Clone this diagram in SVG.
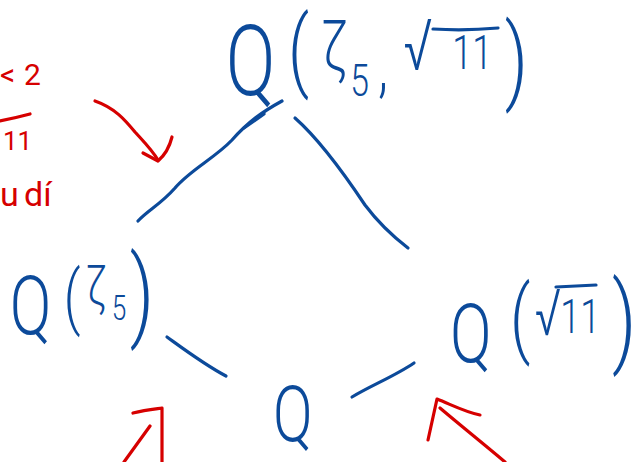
<svg xmlns="http://www.w3.org/2000/svg" width="639" height="462" viewBox="0 0 639 462">
<style>
.b{fill:#0c4a9a;font-family:Roboto,Inter,"Liberation Sans",sans-serif;font-weight:300}
.r{fill:#d60000;font-family:Roboto,Inter,"Liberation Sans",sans-serif;font-weight:400}
.bl{fill:none;stroke:#0c4a9a;stroke-width:3.2;stroke-linecap:round;stroke-linejoin:round}
.rl{fill:none;stroke:#d60000;stroke-width:3.2;stroke-linecap:round;stroke-linejoin:round}
</style>
<rect width="639" height="462" fill="#ffffff"/>
<g id="notes">
<text class="r" font-size="30" y="85"><tspan x="0">&lt;</tspan><tspan x="24">2</tspan></text>
<path class="rl" d="M 0 121 Q 15 118 30 114"/>
<text class="r" font-size="26" x="3" y="150">11</text>
<text class="r" font-size="34" y="206"><tspan x="0">u</tspan><tspan x="24">dí</tspan></text>
</g>
<g id="node-top">
<text class="b" transform="scale(0.75,1)"><tspan x="301" y="95" font-size="98">Q</tspan><tspan x="384" y="80" font-size="88">(</tspan><tspan x="429" y="70" font-size="70">ζ</tspan><tspan x="467" y="96" font-size="45">5</tspan><tspan x="504" y="90" font-size="70">,</tspan><tspan x="538" y="70" font-size="72">√</tspan><tspan x="603" y="69" font-size="48">11</tspan><tspan x="673" y="92" font-size="95">)</tspan></text>
<path class="bl" d="M 433 29 Q 465 31 498 28"/>
</g>
<g id="node-left">
<text class="b" transform="scale(0.75,1)"><tspan x="13" y="334" font-size="82">Q</tspan><tspan x="85" y="321" font-size="70">(</tspan><tspan x="115" y="305" font-size="55">ζ</tspan><tspan x="149" y="320" font-size="35">5</tspan><tspan x="173" y="328" font-size="100">)</tspan></text>
</g>
<g id="node-right">
<text class="b" transform="scale(0.75,1)"><tspan x="600" y="362" font-size="82">Q</tspan><tspan x="680" y="347" font-size="85">(</tspan><tspan x="713" y="335" font-size="65">√</tspan><tspan x="747" y="333" font-size="48">11</tspan><tspan x="816" y="354" font-size="100">)</tspan></text>
<path class="bl" d="M 556 287 Q 575 286 596 285"/>
</g>
<g id="node-bottom">
<text class="b" transform="scale(0.75,1)" x="364" y="441" font-size="78">Q</text>
</g>
<g id="connectors">
<path class="bl" d="M 282 101 C 262 112 248 122 232 140 C 215 158 190 170 175 188 C 160 205 148 210 138 221"/>
<path class="bl" d="M 264 114 L 244 128"/>
<path class="bl" d="M 295 118 C 320 140 345 175 365 205 C 380 225 395 238 408 248"/>
<path class="bl" d="M 167 337 C 185 350 205 365 226 376"/>
<path class="bl" d="M 352 397 C 372 385 395 376 414 363"/>
<path class="rl" d="M 95 101 C 115 108 125 120 135 132 C 145 143 152 150 158 160"/>
<path class="rl" d="M 143 153 L 158 161 C 165 155 170 145 172 137"/>
<path class="rl" d="M 124 462 L 150 426"/>
<path class="rl" d="M 133 413 C 145 410 155 409 162 408 L 162 462"/>
<path class="rl" d="M 440 408 C 460 425 485 445 505 462"/>
<path class="rl" d="M 428 440 L 437 399 C 452 405 465 412 480 415"/>
</g>
</svg>
